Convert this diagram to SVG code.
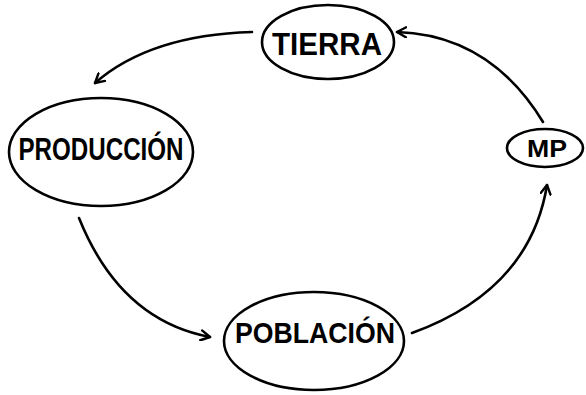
<svg xmlns="http://www.w3.org/2000/svg" width="586" height="395" viewBox="0 0 586 395">
<defs>
<style>
.n{fill:none;stroke:#000;stroke-width:2.6}
.t{font-family:"Liberation Sans","DejaVu Sans",sans-serif;font-weight:bold;fill:#000;text-anchor:middle}
.c{fill:none;stroke:#000;stroke-width:2.6;stroke-linecap:round;marker-end:url(#ah)}
</style>
<marker id="ah" viewBox="0 0 12 12" refX="10" refY="6" markerWidth="12" markerHeight="12" markerUnits="userSpaceOnUse" orient="auto">
<path d="M1,1 L10,6 L1,11" fill="none" stroke="#000" stroke-width="2.4" stroke-linecap="round" stroke-linejoin="round"/>
</marker>
</defs>
<rect width="586" height="395" fill="#fff"/>
<g id="connectors">
<path class="c" d="M252,32 Q150,35 95,83"/>
<path class="c" d="M79,218 Q120,320 210,337"/>
<path class="c" d="M412,333 Q530,290 547,185"/>
<path class="c" d="M543,122 Q490,35 397,32"/>
</g>
<g id="tierra">
<ellipse class="n" cx="328" cy="42" rx="66" ry="37"/>
<text class="t" x="327" y="55" font-size="31" textLength="110" lengthAdjust="spacingAndGlyphs">TIERRA</text>
</g>
<g id="produccion">
<ellipse class="n" cx="101" cy="152" rx="92" ry="54"/>
<text class="t" x="101" y="160" font-size="31" textLength="165" lengthAdjust="spacingAndGlyphs">PRODUCCIÓN</text>
</g>
<g id="poblacion">
<ellipse class="n" cx="314" cy="341" rx="90" ry="49"/>
<text class="t" x="315" y="343" font-size="30" textLength="160" lengthAdjust="spacingAndGlyphs">POBLACIÓN</text>
</g>
<g id="mp">
<ellipse class="n" cx="545" cy="148" rx="38" ry="19"/>
<text class="t" x="547" y="157" font-size="23" textLength="40" lengthAdjust="spacingAndGlyphs">MP</text>
</g>
</svg>
